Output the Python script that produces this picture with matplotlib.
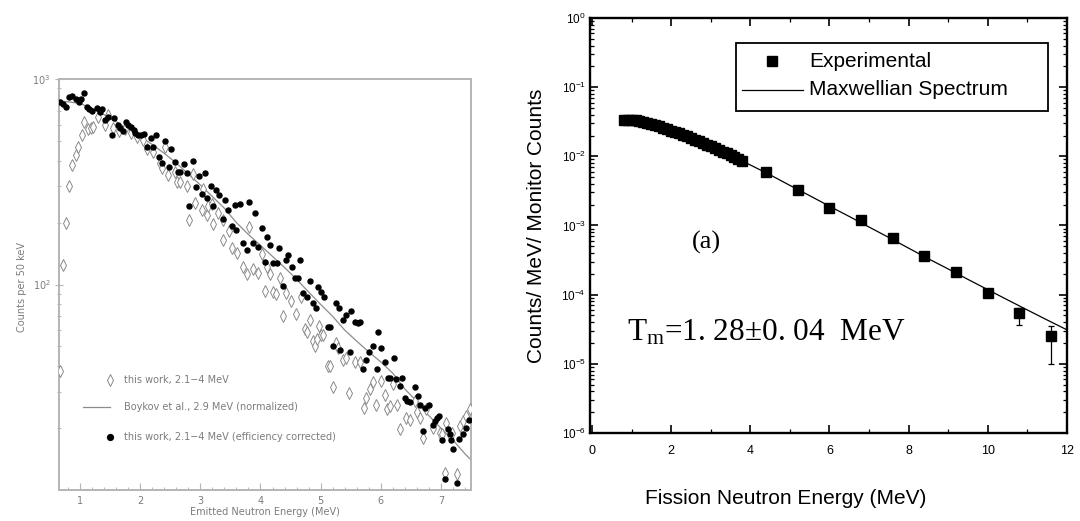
import matplotlib
matplotlib.use("Agg")
import matplotlib.pyplot as plt
from matplotlib.ticker import FixedLocator, FixedFormatter, MultipleLocator, LogLocator, NullFormatter
from matplotlib.patches import Rectangle

# ---------------- left panel: emitted neutron spectrum ----------------
diamond_E = [0.66, 0.72, 0.77, 0.82, 0.87, 0.93, 0.97, 1.03, 1.07, 1.14, 1.18, 1.22, 1.30, 1.42,
             1.47, 1.55, 1.65, 1.75, 1.85, 1.95, 2.05, 2.11, 2.22, 2.33, 2.37, 2.42, 2.47, 2.58,
             2.62, 2.66, 2.77, 2.81, 2.87, 2.91, 3.02, 3.05, 3.11, 3.13, 3.19, 3.21, 3.30, 3.37,
             3.38, 3.48, 3.52, 3.61, 3.71, 3.78, 3.81, 3.87, 3.96, 4.02, 4.07, 4.11, 4.16, 4.21,
             4.26, 4.32, 4.38, 4.43, 4.50, 4.59, 4.68, 4.74, 4.77, 4.82, 4.87, 4.90, 4.94, 4.97,
             5.01, 5.04, 5.12, 5.16, 5.21, 5.25, 5.29, 5.38, 5.42, 5.47, 5.57, 5.65, 5.72, 5.76,
             5.82, 5.87, 5.92, 6.01, 6.07, 6.10, 6.15, 6.20, 6.27, 6.32, 6.42, 6.48, 6.57, 6.60,
             6.66, 6.71, 6.76, 6.86, 6.98, 7.02, 7.06, 7.09, 7.15, 7.18, 7.26, 7.31, 7.37, 7.42,
             7.48]
diamond_counts = [38, 125, 200, 302, 383, 429, 466, 531, 617, 569, 577, 582, 653, 595,
                  667, 580, 560, 570, 545, 520, 505, 454, 440, 391, 367, 466, 341, 351,
                  316, 314, 302, 205, 345, 250, 230, 291, 218, 241, 246, 198, 224, 205,
                  164, 182, 151, 143, 121, 112, 190, 119, 114, 140, 93, 122, 112, 92,
                  90, 107, 70, 91, 83, 72, 87, 61, 59, 67, 53, 50, 54, 63,
                  57, 57, 40, 40, 31.6, 52, 49, 43, 44, 29.7, 42, 42, 25, 28,
                  31, 33.5, 26, 34, 29, 24.8, 25.5, 32.8, 26, 19.9, 22.5, 22, 27, 24,
                  22.5, 18, 24.8, 20, 19, 18.7, 12.1, 21.3, 18.5, 19, 12, 20.5, 21.7, 23,
                  24.8]

dot_E = [0.67, 0.72, 0.76, 0.82, 0.86, 0.93, 0.98, 1.02, 1.07, 1.11, 1.15, 1.20, 1.28, 1.33,
         1.37, 1.42, 1.46, 1.53, 1.57, 1.63, 1.66, 1.72, 1.76, 1.80, 1.85, 1.89, 1.92, 1.97,
         2.02, 2.07, 2.12, 2.18, 2.22, 2.27, 2.31, 2.37, 2.42, 2.48, 2.52, 2.58, 2.63, 2.67,
         2.72, 2.77, 2.81, 2.87, 2.93, 2.98, 3.02, 3.08, 3.11, 3.17, 3.21, 3.26, 3.31, 3.38,
         3.41, 3.46, 3.52, 3.57, 3.60, 3.66, 3.71, 3.77, 3.81, 3.87, 3.91, 3.96, 4.02, 4.07,
         4.11, 4.16, 4.21, 4.28, 4.31, 4.37, 4.42, 4.46, 4.52, 4.57, 4.63, 4.66, 4.71, 4.77,
         4.82, 4.87, 4.92, 4.96, 5.01, 5.05, 5.12, 5.16, 5.21, 5.26, 5.31, 5.33, 5.38, 5.42,
         5.49, 5.51, 5.57, 5.62, 5.66, 5.70, 5.76, 5.81, 5.87, 5.93, 5.96, 6.01, 6.07, 6.12,
         6.16, 6.22, 6.26, 6.32, 6.36, 6.40, 6.44, 6.48, 6.57, 6.62, 6.66, 6.71, 6.73, 6.80,
         6.86, 6.90, 6.94, 6.97, 7.01, 7.06, 7.11, 7.15, 7.17, 7.20, 7.26, 7.30, 7.37, 7.41,
         7.46]
dot_counts = [774, 752, 731, 819, 828, 798, 769, 798, 851, 731, 718, 697, 724, 692,
              718, 631, 653, 536, 646, 600, 577, 556, 617, 600, 583, 562, 548, 531,
              536, 542, 466, 515, 466, 531, 417, 391, 502, 372, 457, 393, 351, 354,
              386, 347, 241, 401, 297, 339, 277, 347, 265, 302, 241, 288, 273, 208,
              257, 230, 192, 244, 185, 246, 159, 148, 252, 159, 224, 153, 189, 129,
              170, 155, 127, 127, 151, 98, 131, 139, 121, 107, 107, 132, 91, 87,
              104, 81, 77, 97, 92, 87, 62, 62, 50, 81, 77, 48, 67, 71,
              47, 74, 66, 65, 66, 39, 43, 47, 50, 39, 59, 49, 42, 35,
              35, 44, 34.5, 32, 35, 28, 27, 26.7, 31.6, 28.8, 26, 19.4, 25, 26,
              20.7, 21.7, 22.5, 23, 17.5, 11.3, 19.8, 18.7, 17.5, 15.8, 10.8, 17.8, 18.7, 20,
              22]

boykov_E = [0.65, 0.8, 1.0, 1.2, 1.4, 1.6, 1.8, 2.0, 2.2, 2.4, 2.6, 2.8, 3.0, 3.2, 3.4, 3.6,
            3.8, 4.0, 4.2, 4.4, 4.6, 4.8, 5.0, 5.2, 5.4, 5.6, 5.8, 6.0, 6.2, 6.4, 6.6, 6.8,
            7.0, 7.2, 7.4, 7.5]
boykov_counts = [780, 775, 760, 720, 670, 620, 570, 525, 480, 435, 390, 345, 305, 268, 235, 200,
                 175, 155, 137, 121, 106, 92, 80, 70, 60, 53, 47, 42, 37, 31, 27, 23,
                 20, 17.5, 15, 14]

left_legend_labels = ["this work, 2.1\u22124 MeV",
                      "Boykov et al., 2.9 MeV (normalized)",
                      "this work, 2.1\u22124 MeV (efficiency corrected)"]

# ---------------- right panel: fission neutron spectrum ----------------
exp_E = [0.8, 0.9, 1.0, 1.1, 1.2, 1.3, 1.4, 1.5, 1.6, 1.7, 1.8, 1.9, 2.0, 2.1, 2.2, 2.3,
         2.4, 2.5, 2.6, 2.7, 2.8, 2.9, 3.0, 3.1, 3.2, 3.3, 3.4, 3.5, 3.6, 3.7, 3.8,
         4.4, 5.2, 6.0, 6.8, 7.6, 8.4, 9.2, 10.0, 10.8, 11.6]
exp_counts = [0.033, 0.034, 0.034, 0.033, 0.032, 0.031, 0.030, 0.029, 0.028, 0.027, 0.026,
              0.025, 0.0235, 0.0225, 0.0215, 0.0205, 0.0195, 0.0185, 0.0175, 0.0165, 0.0155,
              0.0147, 0.0139, 0.0131, 0.0124, 0.0117, 0.0111, 0.0104, 0.0098, 0.0092, 0.0087,
              0.0060, 0.0033, 0.0018, 0.0012, 6.6e-4, 3.6e-4, 2.1e-4, 1.07e-4, 5.5e-5, 2.5e-5]
exp_err_low = [0.0] * 38 + [1.2e-5, 1.9e-5, 1.5e-5]
exp_err_high = [0.0] * 38 + [1.2e-5, 0.9e-5, 1.0e-5]

maxw_E = [0.8, 1.0, 1.5, 2.0, 2.5, 3.0, 3.5, 4.0, 4.5, 5.0, 5.5, 6.0, 6.5, 7.0, 7.5, 8.0,
          8.5, 9.0, 9.5, 10.0, 10.5, 11.0, 11.5, 12.0]
maxw_counts = [0.034, 0.034, 0.029, 0.0235, 0.0185, 0.0139, 0.0104, 0.0075, 0.0054, 0.0038,
               0.0027, 0.0019, 0.00135, 0.00095, 0.00067, 0.00047, 0.00033, 0.000235,
               0.000166, 0.000118, 0.000084, 0.000060, 0.000043, 0.000031]

right_y_ticks = [1e-6, 1e-5, 1e-4, 1e-3, 1e-2, 1e-1, 1e0]
right_y_labels = [r"$\mathregular{10^{-6}}$", r"$\mathregular{10^{-5}}$", r"$\mathregular{10^{-4}}$",
                  r"$\mathregular{10^{-3}}$", r"$\mathregular{10^{-2}}$", r"$\mathregular{10^{-1}}$",
                  r"$\mathregular{10^{0}}$"]

# ---------------- figure ----------------
fig = plt.figure(figsize=(10.8, 5.21), dpi=100)
fig.patch.set_facecolor("white")

W, H = 1080.0, 521.0
GRAY = "#7c7c7c"
FRAME = "#b4b4b4"

# left axes: 59..471 px horizontally, 79..490 px vertically
axL = fig.add_axes([59 / W, (H - 490) / H, 412 / W, 411 / H])
axL.set_yscale("log")
axL.set_xlim(0.65, 7.5)
axL.set_ylim(10, 1000)

axL.plot(boykov_E, boykov_counts, color="#8c8c8c", lw=0.9, zorder=2)
axL.plot(diamond_E, diamond_counts, linestyle="none", marker="d", markersize=5.8,
         markerfacecolor="white", markeredgecolor="#8a8a8a", markeredgewidth=0.7, zorder=3)
axL.plot(dot_E, dot_counts, linestyle="none", marker="o", markersize=3.6,
         markerfacecolor="black", markeredgecolor="black", zorder=4)

for sp in axL.spines.values():
    sp.set_color(FRAME)
    sp.set_linewidth(1.4)

axL.xaxis.set_major_locator(FixedLocator([1, 2, 3, 4, 5, 6, 7]))
axL.xaxis.set_minor_locator(MultipleLocator(0.2))
axL.yaxis.set_major_locator(FixedLocator([100, 1000]))
axL.yaxis.set_major_formatter(FixedFormatter([r"$\mathregular{10^{2}}$", r"$\mathregular{10^{3}}$"]))
axL.yaxis.set_minor_locator(FixedLocator([20, 30, 40, 50, 60, 70, 80, 90,
                                          200, 300, 400, 500, 600, 700, 800, 900]))
axL.yaxis.set_minor_formatter(NullFormatter())
axL.tick_params(axis="both", which="both", colors=FRAME, labelcolor=GRAY, labelsize=7)
axL.tick_params(axis="x", which="major", direction="in", length=5, width=0.8, pad=4)
axL.tick_params(axis="x", which="minor", direction="in", length=2.5, width=0.7)
axL.tick_params(axis="y", which="major", direction="inout", length=6, width=0.8, pad=3)
axL.tick_params(axis="y", which="minor", direction="inout", length=3.5, width=0.7)

axL.set_xlabel("Emitted Neutron Energy (MeV)", fontsize=7, color=GRAY)
axL.set_ylabel("Counts per 50 keV", fontsize=7, color=GRAY)
axL.xaxis.set_label_coords(0.5, -0.042)
axL.yaxis.set_label_coords(-0.078, 0.494)

# legend drawn inside the lower-left of the left axes
leg_rows = [0.268, 0.202, 0.129]
axL.plot([0.124], [leg_rows[0]], transform=axL.transAxes, linestyle="none", marker="d",
         markersize=5.8, markerfacecolor="white", markeredgecolor="#8a8a8a",
         markeredgewidth=0.7, clip_on=False)
axL.plot([0.058, 0.124], [leg_rows[1], leg_rows[1]], transform=axL.transAxes,
         color="#8c8c8c", lw=0.9, clip_on=False)
axL.plot([0.124], [leg_rows[2]], transform=axL.transAxes, linestyle="none", marker="o",
         markersize=4.2, markerfacecolor="black", markeredgecolor="black", clip_on=False)
for yy, lab in zip(leg_rows, left_legend_labels):
    axL.text(0.158, yy, lab, transform=axL.transAxes, fontsize=7, color=GRAY,
             va="center", ha="left")

# right axes: 590..1067 px horizontally, 18..433 px vertically
SANS = "Liberation Sans"
axR = fig.add_axes([590 / W, (H - 433) / H, 477 / W, 415 / H])
axR.set_yscale("log")
axR.set_xlim(-0.05, 12.0)
axR.set_ylim(1e-6, 1.0)

axR.plot(maxw_E, maxw_counts, color="black", lw=0.9, zorder=2)
axR.errorbar(exp_E, exp_counts, yerr=[exp_err_low, exp_err_high], fmt="s", color="black",
             markersize=7, elinewidth=0.9, capsize=2, capthick=0.9, zorder=3)

for sp in axR.spines.values():
    sp.set_color("black")
    sp.set_linewidth(1.7)

axR.xaxis.set_major_locator(FixedLocator([0, 2, 4, 6, 8, 10, 12]))
axR.xaxis.set_minor_locator(MultipleLocator(1))
axR.yaxis.set_major_locator(FixedLocator(right_y_ticks))
axR.yaxis.set_major_formatter(FixedFormatter(right_y_labels))
axR.yaxis.set_minor_locator(LogLocator(base=10, subs=[2, 3, 4, 5, 6, 7, 8, 9]))
axR.yaxis.set_minor_formatter(NullFormatter())
axR.tick_params(axis="both", which="both", direction="in", top=True, right=True,
                colors="black")
axR.tick_params(axis="both", which="major", length=6, width=1.2)
axR.tick_params(axis="both", which="minor", length=3, width=0.9)
axR.tick_params(axis="x", which="major", labelsize=9, pad=9)
axR.tick_params(axis="y", which="major", labelsize=8.5, pad=3)
for lab in axR.get_xticklabels() + axR.get_yticklabels():
    lab.set_fontfamily(SANS)

axR.set_xlabel("Fission Neutron Energy (MeV)", fontsize=15, family=SANS)
axR.set_ylabel("Counts/ MeV/ Monitor Counts", fontsize=15, family=SANS)
axR.xaxis.set_label_coords(0.411, -0.135)
axR.yaxis.set_label_coords(-0.092, 0.5)

# legend box in the upper right
axR.add_patch(Rectangle((0.306, 0.776), 0.654, 0.164, transform=axR.transAxes,
                        facecolor="white", edgecolor="black", lw=1.3, zorder=5))
axR.plot([0.382], [0.896], transform=axR.transAxes, linestyle="none", marker="s",
         markersize=7, color="black", zorder=6)
axR.plot([0.319, 0.447], [0.827, 0.827], transform=axR.transAxes, color="black",
         lw=0.9, zorder=6)
axR.text(0.459, 0.896, "Experimental", transform=axR.transAxes, fontsize=15,
         family=SANS, va="center", ha="left", zorder=6)
axR.text(0.459, 0.827, "Maxwellian Spectrum", transform=axR.transAxes, fontsize=15,
         family=SANS, va="center", ha="left", zorder=6)

SERIF = "Liberation Serif"
axR.text(0.245, 0.458, "(a)", transform=axR.transAxes, fontsize=19, family=SERIF,
         va="center", ha="center")
axR.text(0.078, 0.241, "T$\\mathregular{_m}$=1. 28\u00b10. 04  MeV",
         transform=axR.transAxes, fontsize=22.5, family=SERIF, va="center", ha="left")

fig.savefig("out.png", dpi=100, facecolor="white")
